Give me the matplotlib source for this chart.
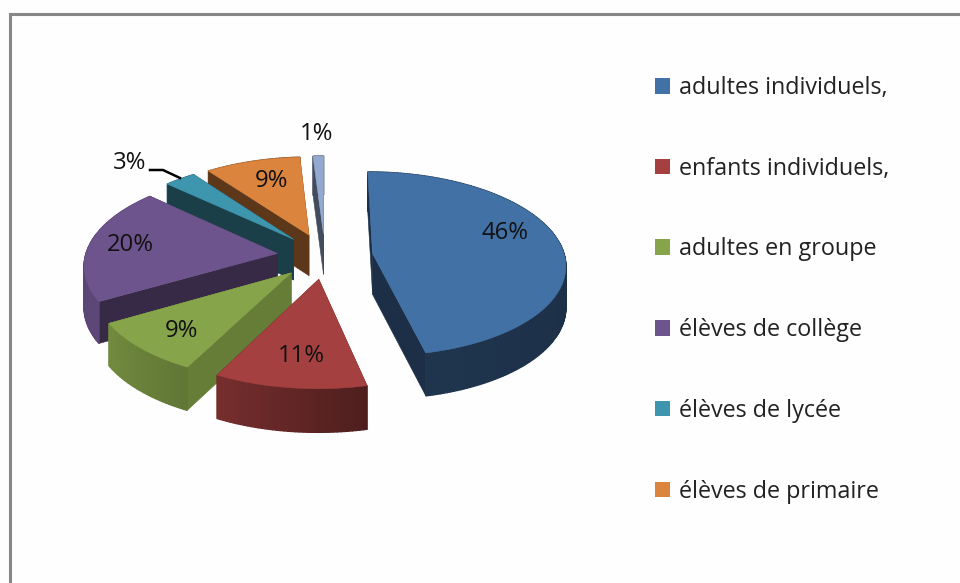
import matplotlib
matplotlib.use('Agg')
import matplotlib.pyplot as plt
from matplotlib.patches import Patch
import numpy as np

plt.rcParams['font.family'] = ['Open Sans', 'DejaVu Sans']

categories = ['adultes individuels,', 'enfants individuels,', 'adultes en groupe',
              'élèves de collège', 'élèves de lycée', 'élèves de primaire']
shares = [46, 11, 9, 20, 3, 9, 1]

colors = ['#4271a6', '#a4403f', '#86a44a', '#6e548d', '#3d96ae', '#db843d', '#93a9cf']
# how dark the cut face of each slice is
face_shade = [0.42, 0.5, 0.76, 0.50, 0.42, 0.42, 0.45]
draw_order = [6, 5, 4, 3, 2, 1, 0]
label_xy = [(505, 233), (301, 356), (182, 331), (130, 245), (130, 163), (272, 181), (317, 134)]

# pie geometry, in pixels
cx, cy = 325, 256
rx, ry = 192, 91.3
persp = 0.113
depth = 41
explode = 0.25


def project(u, v):
    s = 1 / (1 + persp * v)
    return cx + rx * s * u, cy - ry * s * v


def drop(v):
    s = 1 / (1 + persp * v)
    return depth * (1 + (s - 1) * 0.4)


def rim_shade(theta):
    return np.interp(theta, [0, 100, 167, 207, 240, 290, 360],
                     [0.45, 0.42, 0.47, 0.72, 0.85, 0.8, 0.5])


def darker(color, f):
    return tuple(c * f for c in matplotlib.colors.to_rgb(color))


def draw_rim_strip(ax, theta0, theta1, off_u, off_v, color):
    a = np.radians([theta0, theta1])
    u = off_u + np.sin(a)
    v = off_v + np.cos(a)
    x, y = project(u, v)
    d = drop(v)
    c = darker(color, rim_shade((theta0 + theta1) / 2))
    ax.fill([x[0], x[1], x[1], x[0]], [y[0], y[1], y[1] + d[1], y[0] + d[0]],
            color=c, lw=1.0, zorder=ax.zbase)


def draw_face(ax, theta, off_u, off_v, color):
    a = np.radians(theta)
    u = np.array([off_u, off_u + np.sin(a)])
    v = np.array([off_v, off_v + np.cos(a)])
    x, y = project(u, v)
    d = drop(v)
    ax.fill([x[0], x[1], x[1], x[0]], [y[0], y[1], y[1] + d[1], y[0] + d[0]],
            color=color, lw=0.4, zorder=ax.zbase)


def draw_slice(ax, start, end, color, shade):
    mid = np.radians((start + end) / 2)
    off_u, off_v = explode * np.sin(mid), explode * np.cos(mid)
    edges = np.linspace(start, end, max(int(end - start) + 2, 3))
    strips = list(zip(edges[:-1], edges[1:]))
    is_back = lambda t: np.cos(np.radians((t[0] + t[1]) / 2)) > 0

    for t in strips:
        if is_back(t):
            draw_rim_strip(ax, t[0], t[1], off_u, off_v, color)
    for theta in (start, end):
        draw_face(ax, theta, off_u, off_v, darker(color, shade))
    for t in strips:
        if not is_back(t):
            draw_rim_strip(ax, t[0], t[1], off_u, off_v, color)

    a = np.radians(np.linspace(start, end, 100))
    u = np.concatenate([[off_u], off_u + np.sin(a)])
    v = np.concatenate([[off_v], off_v + np.cos(a)])
    x, y = project(u, v)
    ax.fill(x, y, color=color, lw=0.4, zorder=ax.zbase + 1)


fig = plt.figure(figsize=(9.6, 5.83), dpi=100, facecolor='#fefefe')
ax = fig.add_axes([0, 0, 1, 1])
ax.set_xlim(0, 960)
ax.set_ylim(583, 0)
ax.axis('off')

# outer chart border, open on the right and at the bottom
ax.plot([9.5, 9.5, 960], [583, 13.5, 13.5], color='#878787', lw=2.2, solid_joinstyle='miter')

angles = np.concatenate([[0], np.cumsum(shares)]) / np.sum(shares) * 360
for n, i in enumerate(draw_order):
    ax.zbase = 2 + n * 2
    draw_slice(ax, angles[i], angles[i + 1], colors[i], face_shade[i])

for value, (x, y) in zip(shares, label_xy):
    ax.text(x, y, f'{value}%', ha='center', va='center', fontsize=17.2, color='#111111', zorder=30)

# leader line of the small slice
ax.plot([150, 163, 180], [170, 170, 178], color='black', lw=1.8, zorder=30)

handles = [Patch(facecolor=c, edgecolor='none') for c in colors[:6]]
ax.legend(handles, categories, loc='upper left', bbox_to_anchor=(648, 69),
          bbox_transform=ax.transData, frameon=False, fontsize=16.8,
          handlelength=0.65, handleheight=0.65, handletextpad=0.38,
          labelspacing=2.43, labelcolor='#222222', borderaxespad=0, borderpad=0.3)

fig.savefig('out.png', dpi=100, facecolor=fig.get_facecolor())
